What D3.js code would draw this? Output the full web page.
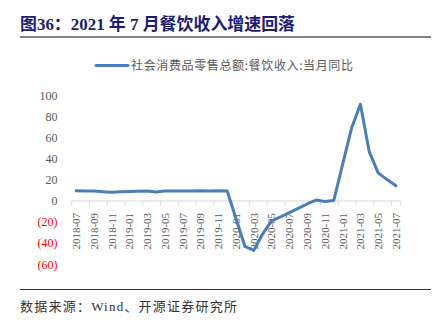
<!DOCTYPE html>
<html>
<head>
<meta charset="utf-8">
<script src="https://cdn.jsdelivr.net/npm/d3@7/dist/d3.min.js"></script>
<style>
  html, body { margin: 0; padding: 0; background: #fff; }
  svg { display: block; }
</style>
</head>
<body>
<script>
// Monthly catering revenue, year-on-year growth (%). Jan values are folded into Feb (null).
const months = [
  "2018-07","2018-08","2018-09","2018-10","2018-11","2018-12",
  "2019-01","2019-02","2019-03","2019-04","2019-05","2019-06",
  "2019-07","2019-08","2019-09","2019-10","2019-11","2019-12",
  "2020-01","2020-02","2020-03","2020-04","2020-05","2020-06",
  "2020-07","2020-08","2020-09","2020-10","2020-11","2020-12",
  "2021-01","2021-02","2021-03","2021-04","2021-05","2021-06","2021-07"
];
const cateringYoY = [
  9.6, 9.5, 9.3, 8.6, 8.2, 8.8,
  null, 9.2, 9.3, 8.5, 9.3, 9.5,
  9.5, 9.5, 9.6, 9.3, 9.6, 9.4,
  null, -43.1, -46.8, -31.1, -18.9, -15.2,
  -11.0, -7.0, -2.9, 0.8, -0.6, 0.4,
  null, 68.9, 91.6, 46.4, 26.6, 20.2, 14.3
];
const yTicks = [100, 80, 60, 40, 20, 0, -20, -40, -60];
const seriesName = "社会消费品零售总额:餐饮收入:当月同比";
const titleText = "图36：2021 年 7 月餐饮收入增速回落";
const sourceText = "数据来源：Wind、开源证券研究所";

const W = 444, H = 323;
const serif = "'Times New Roman', 'Liberation Serif', 'Noto Sans CJK SC', serif";
const cjk = "'Noto Sans CJK SC', 'Liberation Serif', sans-serif";

const svg = d3.select("body").append("svg")
  .attr("width", W).attr("height", H);

// Header
svg.append("text")
  .attr("x", 20).attr("y", 30)
  .attr("font-family", serif)
  .attr("font-size", 17)
  .attr("font-weight", "bold")
  .attr("fill", "#1c1c78")
  .attr("textLength", 275)
  .attr("lengthAdjust", "spacingAndGlyphs")
  .text(titleText);
svg.append("line")
  .attr("x1", 20).attr("x2", 431).attr("y1", 37).attr("y2", 37)
  .attr("stroke", "#5a5a5a").attr("stroke-width", 1.5);

// Scales
const plotLeft = 71.7, plotRight = 400.4;
const x = d3.scaleBand().domain(months).range([plotLeft, plotRight]).padding(0);
const y = d3.scaleLinear().domain([-60, 100]).range([264.3, 95.3]);
const xc = m => x(m) + x.bandwidth() / 2;

// Y axis labels (no axis line)
const yAxis = svg.append("g");
yAxis.selectAll("text").data(yTicks).join("text")
  .attr("x", 57.5)
  .attr("y", d => y(d))
  .attr("dy", "0.35em")
  .attr("text-anchor", "end")
  .attr("font-family", serif)
  .attr("font-size", 12)
  .attr("fill", d => d < 0 ? "#ff0000" : "#595959")
  .text(d => d < 0 ? `(${Math.abs(d)})` : d);

// X axis along zero
const zeroY = y(0);
svg.append("line")
  .attr("x1", plotLeft).attr("x2", plotRight)
  .attr("y1", zeroY).attr("y2", zeroY)
  .attr("stroke", "#d9d9d9").attr("stroke-width", 1);
const tickMonths = months.filter((m, i) => i % 2 === 0);
svg.append("g").selectAll("line").data(tickMonths.concat([null])).join("line")
  .attr("x1", d => d === null ? plotRight : x(d))
  .attr("x2", d => d === null ? plotRight : x(d))
  .attr("y1", zeroY).attr("y2", zeroY + 4.5)
  .attr("stroke", "#d9d9d9").attr("stroke-width", 1);
svg.append("g").selectAll("text").data(tickMonths).join("text")
  .attr("transform", d => `translate(${xc(d)},${zeroY + 12}) rotate(-90)`)
  .attr("text-anchor", "end")
  .attr("dy", "0.35em")
  .attr("font-family", serif)
  .attr("font-size", 11)
  .attr("fill", "#595959")
  .text(d => d);

// Series line (gaps bridged)
const pts = months.map((m, i) => ({ m, v: cateringYoY[i] })).filter(d => d.v !== null);
const line = d3.line().x(d => xc(d.m)).y(d => y(d.v));
svg.append("path")
  .datum(pts)
  .attr("d", line)
  .attr("fill", "none")
  .attr("stroke", "#4a7ebb")
  .attr("stroke-width", 3)
  .attr("stroke-linejoin", "round")
  .attr("stroke-linecap", "round");

// Legend
svg.append("line")
  .attr("x1", 96).attr("x2", 128).attr("y1", 65.5).attr("y2", 65.5)
  .attr("stroke", "#4a7ebb").attr("stroke-width", 3)
  .attr("stroke-linecap", "round");
svg.append("text")
  .attr("x", 131).attr("y", 65.5).attr("dy", "0.35em")
  .attr("font-family", cjk)
  .attr("font-size", 12)
  .attr("fill", "#595959")
  .attr("textLength", 222)
  .attr("lengthAdjust", "spacing")
  .text(seriesName);

// Footer
svg.append("line")
  .attr("x1", 20).attr("x2", 431).attr("y1", 289.5).attr("y2", 289.5)
  .attr("stroke", "#333").attr("stroke-width", 1.2);
svg.append("text")
  .attr("x", 20).attr("y", 306).attr("dy", "0.35em")
  .attr("font-family", serif)
  .attr("font-size", 13)
  .attr("fill", "#333")
  .attr("textLength", 217)
  .attr("lengthAdjust", "spacing")
  .text(sourceText);
</script>
</body>
</html>
